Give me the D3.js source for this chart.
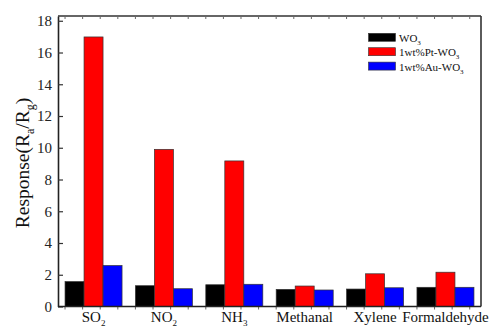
<!DOCTYPE html>
<html><head><meta charset="utf-8">
<script src="https://cdn.jsdelivr.net/npm/d3@7"></script>
<style>body{margin:0;background:#fff}svg{display:block}svg text{font-family:"Liberation Serif","DejaVu Serif",serif !important}</style>
</head><body><svg id="c" width="500" height="327"></svg>
<script>
const categories = ["SO2","NO2","NH3","Methanal","Xylene","Formaldehyde"];
const categorySubs = [["SO","2"],["NO","2"],["NH","3"],["Methanal",""],["Xylene",""],["Formaldehyde",""]];
const seriesNames = ["WO3","1wt%Pt-WO3","1wt%Au-WO3"];
const seriesLabels = [["WO","3"],["1wt%Pt-WO","3"],["1wt%Au-WO","3"]];
const seriesColors = ["#000000","#ff0000","#0000ff"];
const wo3 = [1.57,1.31,1.37,1.08,1.10,1.21];
const pt = [16.98,9.90,9.17,1.29,2.06,2.16];
const au = [2.58,1.12,1.40,1.04,1.18,1.21];
const yTicks = [0,2,4,6,8,10,12,14,16,18];
const series = [wo3, pt, au];

const svg = d3.select("#c");
const L=58, R=481, T=16, B=306.5;
const x = d3.scaleBand().domain(categories).range([L,R]).paddingInner(0.19).paddingOuter(0.1);
const xs = d3.scaleBand().domain(seriesNames).range([0,x.bandwidth()]);
const y = d3.scaleLinear().domain([0,18.3]).range([B,T]);

// bars
categories.forEach((c,i)=>{
  series.forEach((s,j)=>{
    svg.append("rect")
      .attr("x", x(c)+xs(seriesNames[j]))
      .attr("y", y(s[i]))
      .attr("width", xs.bandwidth())
      .attr("height", B - y(s[i]))
      .attr("fill", seriesColors[j])
      .attr("stroke","#333").attr("stroke-width",0.7);
  });
});

// minor ticks top/bottom
const step = x.step();
for(let k=0;k<=24;k++){
  const xx = L + k*step/4 + (x(categories[0])-L) ;
  if(xx>L+1 && xx<R-1){
    svg.append("line").attr("x1",xx).attr("x2",xx).attr("y1",T).attr("y2",T+3).attr("stroke","#666").attr("stroke-width",1);
    svg.append("line").attr("x1",xx).attr("x2",xx).attr("y1",B).attr("y2",B+3).attr("stroke","#666").attr("stroke-width",1);
  }
}

// frame
svg.append("line").attr("x1",L).attr("x2",R).attr("y1",T).attr("y2",T).attr("stroke","#666").attr("stroke-width",2);
svg.append("line").attr("x1",R).attr("x2",R).attr("y1",T).attr("y2",B).attr("stroke","#333").attr("stroke-width",1.6);

// y axis
const ya = svg.append("g").attr("transform",`translate(${L},0)`)
  .call(d3.axisLeft(y).tickValues(yTicks).tickSizeInner(-5).tickSizeOuter(0).tickPadding(6));
ya.attr("font-family",null);
ya.select(".domain").attr("stroke","#222").attr("stroke-width",1.6);
ya.selectAll(".tick line").attr("stroke","#333").attr("stroke-width",1.2);
ya.selectAll(".tick text").attr("font-size",15).attr("fill","#222");

// x axis line
svg.append("line").attr("x1",L).attr("x2",R).attr("y1",B).attr("y2",B).attr("stroke","#222").attr("stroke-width",1.6);

// x labels
categories.forEach((c,i)=>{
  const t = svg.append("text").attr("x", x(c)+x.bandwidth()/2).attr("y",321.5)
    .attr("text-anchor","middle").attr("font-size",15).attr("fill","#111");
  t.append("tspan").text(categorySubs[i][0]);
  if(categorySubs[i][1]) t.append("tspan").attr("font-size",9).attr("dy",4).text(categorySubs[i][1]);
});

// y label
const yl = svg.append("text").attr("transform","translate(29,163) rotate(-90)").attr("text-anchor","middle")
  .attr("font-size",19.5).attr("fill","#111");
yl.append("tspan").text("Response(R");
yl.append("tspan").attr("font-size",12).attr("dy",5).text("a");
yl.append("tspan").attr("dy",-5).text("/R");
yl.append("tspan").attr("font-size",12).attr("dy",5).text("g");
yl.append("tspan").attr("dy",-5).text(")");

// legend
seriesNames.forEach((s,j)=>{
  const yy = 33.3 + j*14.4;
  svg.append("rect").attr("x",368.5).attr("y",yy).attr("width",27).attr("height",8)
    .attr("fill",seriesColors[j]).attr("stroke","#333").attr("stroke-width",0.6);
  const t = svg.append("text").attr("x",399).attr("y",yy+8.5).attr("font-size",11).attr("fill","#111");
  t.append("tspan").text(seriesLabels[j][0]);
  t.append("tspan").attr("font-size",7).attr("dy",3).text(seriesLabels[j][1]);
});
</script></body></html>
